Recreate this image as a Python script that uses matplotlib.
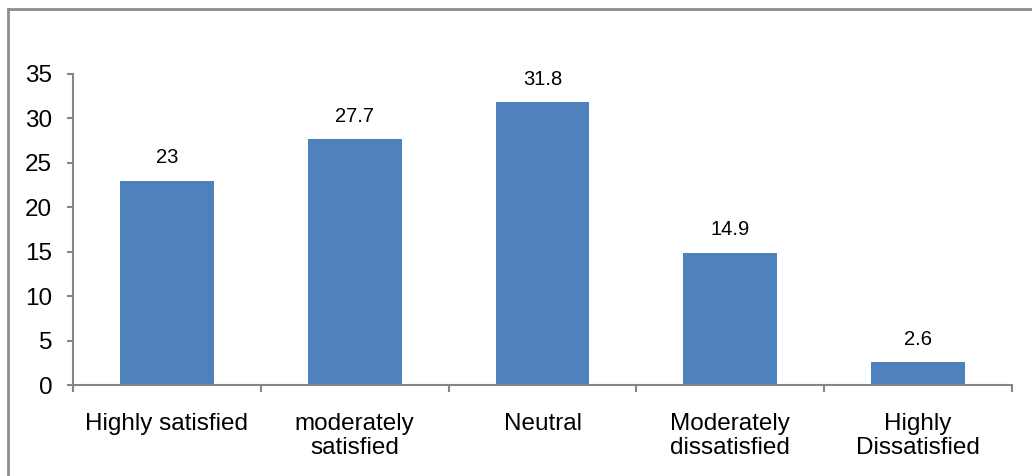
import matplotlib
matplotlib.use("Agg")
import matplotlib.pyplot as plt
import numpy as np

categories = ["Highly satisfied", "moderately\nsatisfied", "Neutral",
              "Moderately\ndissatisfied", "Highly\nDissatisfied"]
values = [23, 27.7, 31.8, 14.9, 2.6]
labels = ["23", "27.7", "31.8", "14.9", "2.6"]

plt.rcParams['font.family'] = ['Liberation Sans', 'DejaVu Sans']

grey = "#868686"
fig = plt.figure(figsize=(10.32, 4.76), dpi=100)
ax = fig.add_axes([73/1032, 1 - 385/476, (1012 - 73)/1032, (385 - 74)/476])

x = np.arange(len(categories))
bars = ax.bar(x, values, width=0.5, color="#4F81BD", zorder=2)

for b, lab in zip(bars, labels):
    ax.annotate(lab, (b.get_x() + b.get_width()/2, b.get_height()),
                xytext=(0, 9.5), textcoords="offset points",
                ha="center", va="bottom", fontsize=14.5)

ax.set_xlim(-0.5, len(categories) - 0.5)
ax.set_ylim(0, 35)
ax.set_yticks(range(0, 36, 5))
ax.set_xticks(x)
ax.set_xticklabels(categories, fontsize=17.5, linespacing=1.15)
ax.set_xticks(np.arange(-0.5, len(categories), 1), minor=True)
ax.tick_params(axis="x", which="major", length=0, pad=20)
ax.tick_params(axis="x", which="minor", length=5, width=1.5, color=grey)
ax.tick_params(axis="y", length=4, width=1.5, color=grey, labelsize=17.5, pad=11)

for s in ["top", "right"]:
    ax.spines[s].set_visible(False)
for s in ["left", "bottom"]:
    ax.spines[s].set_color(grey)
    ax.spines[s].set_linewidth(1.5)

# outer frame (top and left edges visible)
fig.add_artist(plt.Line2D([8/1032, 8/1032], [0, 1 - 9/476], color="#8c8c8c", lw=2,
                          transform=fig.transFigure))
fig.add_artist(plt.Line2D([8/1032, 1], [1 - 9/476, 1 - 9/476], color="#8c8c8c", lw=2,
                          transform=fig.transFigure))

fig.savefig("out.png", dpi=100)
